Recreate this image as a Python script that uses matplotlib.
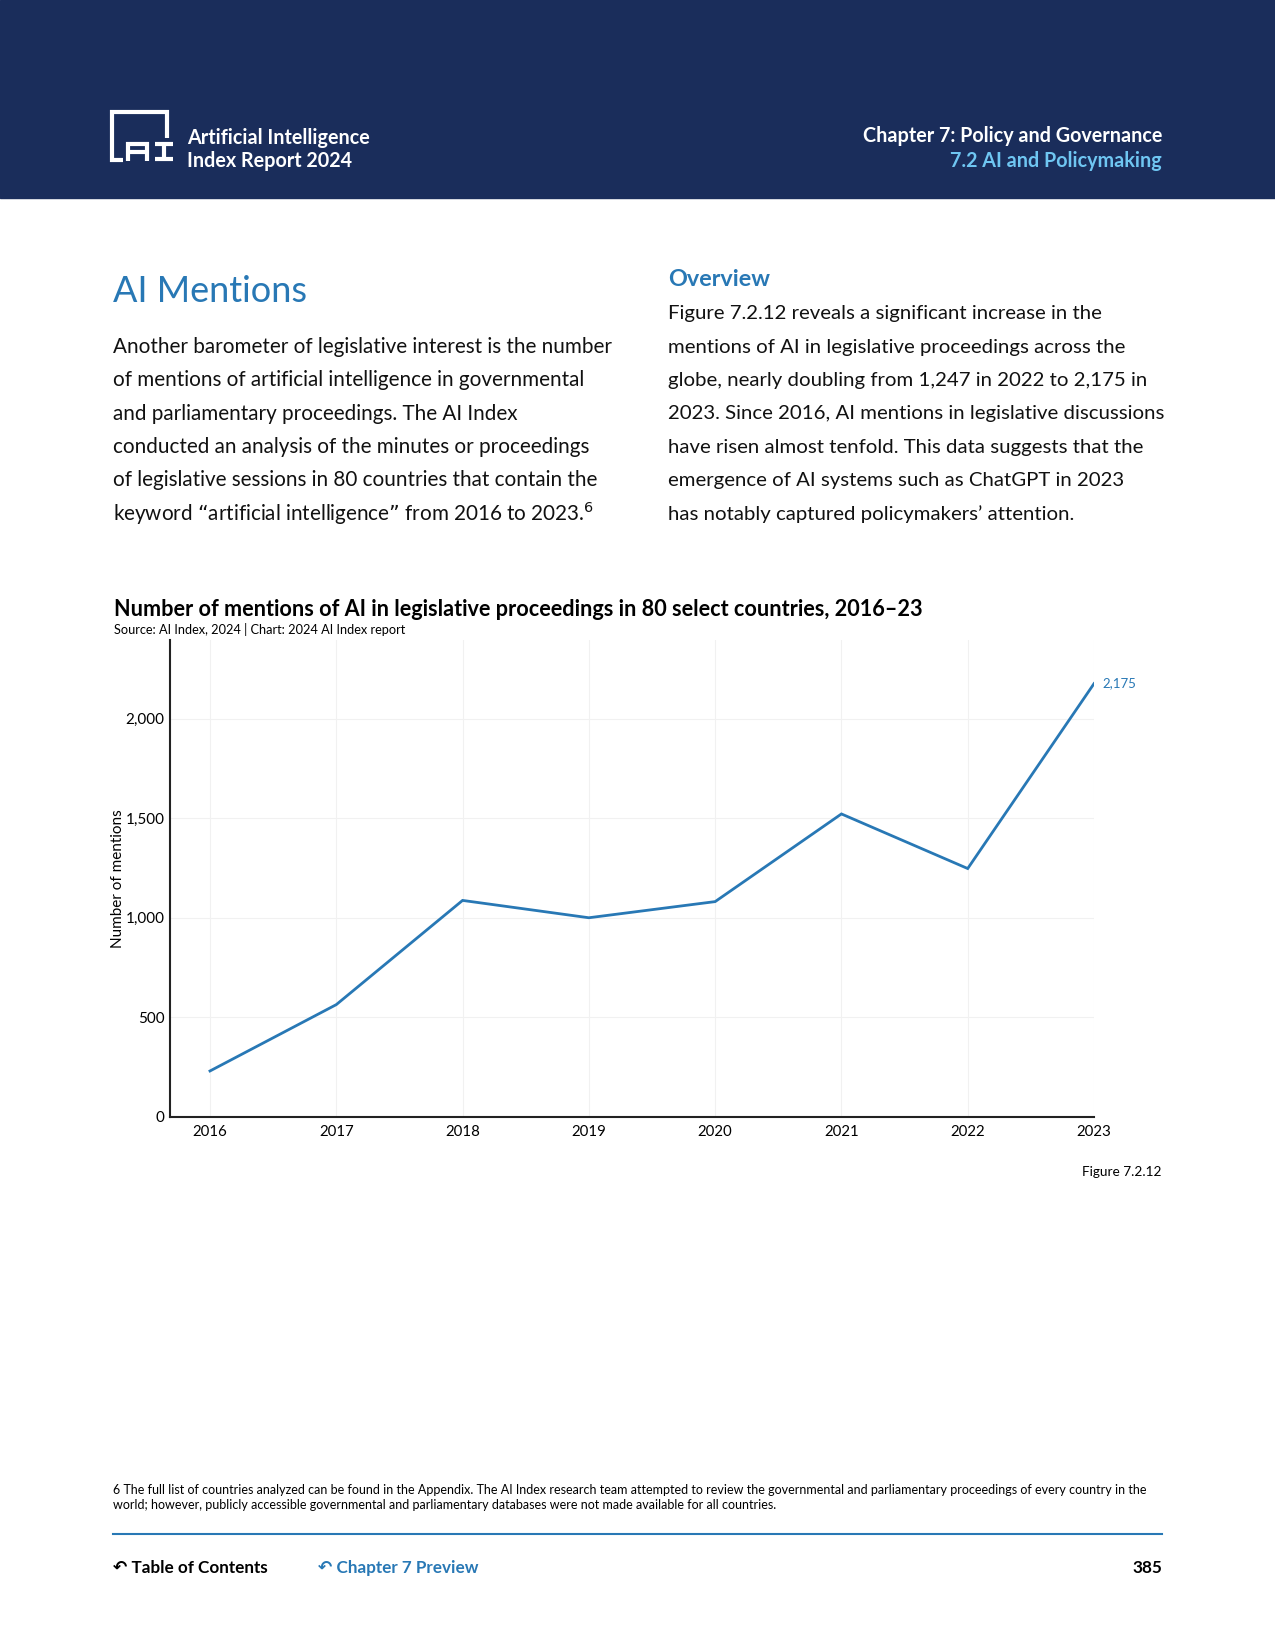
import matplotlib
matplotlib.use("Agg")
import matplotlib.pyplot as plt
from matplotlib.lines import Line2D
from matplotlib.patches import Rectangle
from matplotlib.ticker import FuncFormatter

plt.rcParams["font.family"] = ["Lato", "DejaVu Sans"]

# data
years = [2016, 2017, 2018, 2019, 2020, 2021, 2022, 2023]
mentions = [231, 564, 1087, 1000, 1081, 1521, 1247, 2175]
y_ticks = [0, 500, 1000, 1500, 2000]

W, H = 1275, 1650
NAVY = "#1a2d5b"
BLUE = "#2878b5"
LIGHT = "#6fc6f2"

fig = plt.figure(figsize=(W / 100, H / 100), dpi=100)


def fx(x):
    return x / W


def fy(y):
    return 1 - y / H


def txt(x, y, s, **kw):
    kw.setdefault("va", "center")
    fig.text(fx(x), fy(y), s, **kw)


def pline(xs, ys, **kw):
    fig.lines.append(Line2D([fx(v) for v in xs], [fy(v) for v in ys],
                            transform=fig.transFigure, **kw))


# header band
fig.patches.append(Rectangle((0, fy(198)), 1, 198 / H, transform=fig.transFigure,
                             color=NAVY, zorder=0))

# logo: frame plus blocky "AI"
logo = dict(color="white", lw=3.0, solid_joinstyle="miter", solid_capstyle="butt")
pline([123, 112, 112, 167, 167], [160, 160, 112, 112, 138], **logo)
pline([128, 128, 147, 147], [160.5, 144, 144, 160.5], **logo)
pline([128, 147], [152, 152], **logo)
pline([155, 173], [144, 144], **logo)
pline([155, 173], [159, 159], **logo)
pline([164, 164], [144, 159], **logo)

txt(187, 138, "Artificial Intelligence", color="white", fontsize=14.2, fontweight="bold")
txt(187, 161, "Index Report 2024", color="white", fontsize=14.2, fontweight="bold")
txt(1162, 136, "Chapter 7: Policy and Governance", color="white", fontsize=14.2,
    fontweight="bold", ha="right")
txt(1162, 161, "7.2 AI and Policymaking", color=LIGHT, fontsize=14.2,
    fontweight="bold", ha="right")

# intro text
txt(113, 292, "AI Mentions", color=BLUE, fontsize=26)
left_lines = [
    "Another barometer of legislative interest is the number",
    "of mentions of artificial intelligence in governmental",
    "and parliamentary proceedings. The AI Index",
    "conducted an analysis of the minutes or proceedings",
    "of legislative sessions in 80 countries that contain the",
    "keyword \u201cartificial intelligence\u201d from 2016 to 2023.$^{6}$",
]
for i, line in enumerate(left_lines):
    txt(113, 347 + i * 33.3, line, fontsize=14.9, color="#111111")

txt(668, 280, "Overview", color=BLUE, fontsize=16.8, fontweight="bold")
right_lines = [
    "Figure 7.2.12 reveals a significant increase in the",
    "mentions of AI in legislative proceedings across the",
    "globe, nearly doubling from 1,247 in 2022 to 2,175 in",
    "2023. Since 2016, AI mentions in legislative discussions",
    "have risen almost tenfold. This data suggests that the",
    "emergence of AI systems such as ChatGPT in 2023",
    "has notably captured policymakers\u2019 attention.",
]
for i, line in enumerate(right_lines):
    txt(668, 314 + i * 33.3, line, fontsize=14.7, color="#111111")

# chart titles
txt(114, 609, "Number of mentions of AI in legislative proceedings in 80 select countries, 2016\u201323",
    fontsize=15.55, fontweight="bold", color="black")
txt(114, 629, "Source: AI Index, 2024 | Chart: 2024 AI Index report", fontsize=9.2,
    color="black")

# chart
ax = fig.add_axes([fx(170), fy(1117), (1094 - 170) / W, (1117 - 640) / H])
ax.plot(years, mentions, color=BLUE, lw=2, solid_joinstyle="miter")
ax.set_xlim(2016 - 40 / 126.3, 2023)
ax.set_ylim(0, 2394)
ax.set_xticks(years)
ax.set_yticks(y_ticks)
ax.yaxis.set_major_formatter(FuncFormatter(lambda v, p: f"{int(v):,}"))
ax.grid(True, color="#f1f1f1", lw=0.8)
ax.set_axisbelow(True)
for side in ["top", "right"]:
    ax.spines[side].set_visible(False)
for side in ["left", "bottom"]:
    ax.spines[side].set_linewidth(1.5)
    ax.spines[side].set_color("#222222")
ax.tick_params(length=0, labelsize=11, pad=4)
ax.tick_params(axis="x", labelsize=10.8, pad=6)
ax.set_ylabel("Number of mentions", fontsize=11, labelpad=0)
ax.annotate(f"{mentions[-1]:,}", (years[-1], mentions[-1]), xytext=(6, 0),
            textcoords="offset points", color=BLUE, fontsize=9.5, va="center")

txt(1162, 1172, "Figure 7.2.12", fontsize=9.8, ha="right")

# footnote
txt(113, 1490, "6 The full list of countries analyzed can be found in the Appendix. The AI Index research team "
    "attempted to review the governmental and parliamentary proceedings of every country in the",
    fontsize=9.0)
txt(113, 1505, "world; however, publicly accessible governmental and parliamentary databases were "
    "not made available for all countries.", fontsize=9.0)

pline([113, 1162], [1534, 1534], color=BLUE, lw=1.5)

txt(113, 1568, "\u21b6 Table of Contents", fontsize=12.3, fontweight="bold", color="black")
txt(318, 1568, "\u21b6 Chapter 7 Preview", fontsize=12.3, fontweight="bold", color=BLUE)
txt(1162, 1568, "385", fontsize=12.3, fontweight="bold", ha="right", color="black")

fig.savefig("out.png", dpi=100)
